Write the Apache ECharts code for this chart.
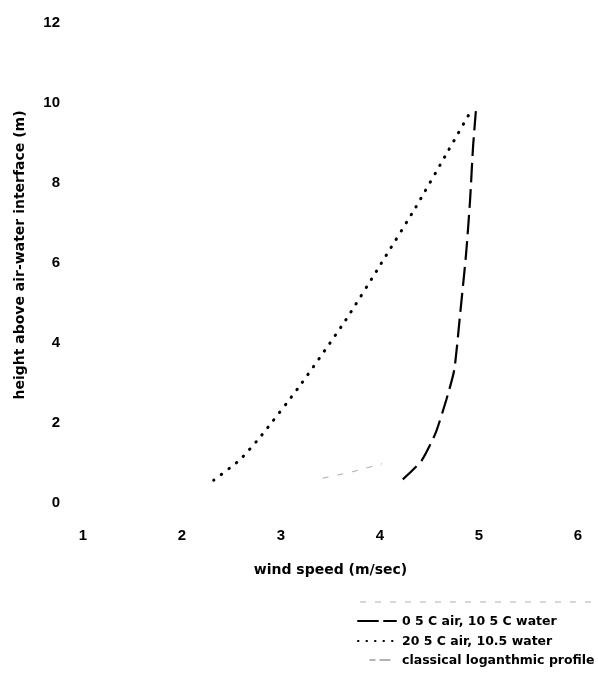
<!DOCTYPE html>
<html>
<head>
<meta charset="utf-8">
<script src="https://cdn.jsdelivr.net/npm/echarts@6/dist/echarts.min.js"></script>
<style>
html,body{margin:0;padding:0;background:#fff;}
#chart{width:598px;height:674px;}
</style>
</head>
<body>
<div id="chart"></div>
<script>
// Data
const xTicks = [1, 2, 3, 4, 5, 6];
const yTicks = [0, 2, 4, 6, 8, 10, 12];

// 0.5 C air, 10.5 C water (dashed)
const coldAirX = [4.23, 4.42, 4.56, 4.67, 4.75, 4.81, 4.87, 4.91, 4.94, 4.97];
const coldAirY = [0.59, 1.06, 1.74, 2.58, 3.33, 4.74, 6.24, 7.58, 8.91, 9.85];

// 20.5 C air, 10.5 water (dotted)
const warmAirX = [2.32, 2.58, 2.80, 3.19, 3.65, 4.01, 4.36, 4.69, 4.93];
const warmAirY = [0.57, 1.07, 1.68, 2.93, 4.56, 5.98, 7.39, 8.81, 9.85];

// classical logarithmic profile (faint, only partly visible)
const logX = [3.42, 3.72, 4.02];
const logY = [0.62, 0.78, 0.98];

const seriesNames = ['0 5 C air, 10 5 C water', '20 5 C air, 10.5 water', 'classical loganthmic profile'];

const zip = (xs, ys) => xs.map((x, i) => [x, ys[i]]);

const font = 'Liberation Sans, Arial, sans-serif';
const wide = 'DejaVu Sans, sans-serif';

// legend drawn as graphics (key sample + label)
const legendRows = [621, 641, 660];
const legendText = (i) => ({
  type: 'text', left: 402, top: legendRows[i] - 6,
  style: { text: seriesNames[i], fill: '#000', font: 'bold 12.5px ' + wide }
});
const seg = (x1, x2, y, stroke, w, dash) => ({
  type: 'line', shape: { x1, y1: y, x2, y2: y },
  style: { stroke, lineWidth: w, lineDash: dash || null, lineCap: 'round' }
});

const chart = echarts.init(document.getElementById('chart'));
chart.setOption({
  backgroundColor: '#fff',
  animation: false,
  grid: { left: 83, right: 20, top: 23, bottom: 171 },
  xAxis: {
    type: 'value', min: 1, max: 6, interval: 1,
    axisLine: { show: false }, axisTick: { show: false }, splitLine: { show: false },
    axisLabel: { margin: 25, color: '#000', fontSize: 15, fontWeight: 'bold', fontFamily: font,
      formatter: v => xTicks.includes(v) ? String(v) : '' },
    name: 'wind speed (m/sec)', nameLocation: 'middle', nameGap: 60,
    nameTextStyle: { color: '#000', fontSize: 14, fontWeight: 'bold', fontFamily: wide }
  },
  yAxis: {
    type: 'value', min: 0, max: 12, interval: 2,
    axisLine: { show: false }, axisTick: { show: false }, splitLine: { show: false },
    axisLabel: { margin: 23, color: '#000', fontSize: 15, fontWeight: 'bold', fontFamily: font,
      formatter: v => yTicks.includes(v) ? String(v) : '' },
    name: 'height above air-water interface (m)', nameLocation: 'middle', nameGap: 56,
    nameTextStyle: { color: '#000', fontSize: 14, fontWeight: 'bold', fontFamily: wide, padding: [0, 0, 0, 16] }
  },
  graphic: [
    { type: 'line', shape: { x1: 360, y1: 602, x2: 597, y2: 602 },
      style: { stroke: '#b0b0b0', lineWidth: 1, lineDash: [6, 9] } },
    seg(358, 378, legendRows[0], '#000', 2),
    seg(384, 396, legendRows[0], '#000', 2),
    seg(358, 398, legendRows[1], '#000', 2, [0.5, 8]),
    seg(370, 375, legendRows[2], '#666', 1.2),
    seg(380, 390, legendRows[2], '#666', 1.2),
    legendText(0), legendText(1), legendText(2)
  ],
  series: [
    { name: seriesNames[0], type: 'line', data: zip(coldAirX, coldAirY), symbol: 'none', smooth: 0.2,
      lineStyle: { color: '#000', width: 2.2, type: [19, 7] } },
    { name: seriesNames[1], type: 'line', data: zip(warmAirX, warmAirY), symbol: 'none', smooth: 0.2,
      lineStyle: { color: '#000', width: 3, type: [0.5, 9], cap: 'round' } },
    { name: seriesNames[2], type: 'line', data: zip(logX, logY), symbol: 'none',
      lineStyle: { color: '#aaa', width: 1, type: [6, 9] } }
  ]
});
</script>
</body>
</html>
